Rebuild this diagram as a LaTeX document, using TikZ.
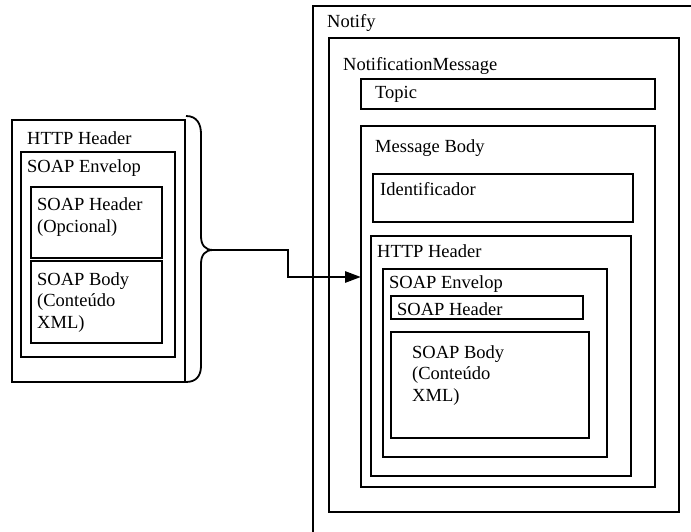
\documentclass[tikz,border=0pt]{standalone}
\usepackage{fontspec}
\setmainfont{Liberation Serif}
\usetikzlibrary{arrows.meta}
\begin{document}
\begin{tikzpicture}[x=1pt,y=-1pt,
  box/.style={draw=black,line width=1.8pt,rectangle,anchor=north west,inner sep=0pt,outer sep=0pt},
  lbl/.style={anchor=base west,inner sep=0pt,align=left,font=\fontsize{18.5}{21.5}\selectfont},
  link/.style={line width=2.8pt,-{Triangle[length=16pt,width=11pt]}},
  brace/.style={line width=1.8pt}]
\clip (0,0) rectangle (691,532);
\fill[white] (0,0) rectangle (691,532);

% left: the HTTP message (multi-line labels sit on their last baseline)
\node[box,minimum width=173pt,minimum height=262pt] (lhttp) at (12,120) {};
\node[box,minimum width=154pt,minimum height=205pt] (lenv) at (21,152) {};
\node[box,minimum width=131pt,minimum height=71pt] (lsh) at (31,187) {};
\node[box,minimum width=131pt,minimum height=82pt] (lsb) at (31,261) {};
\node[lbl] (lhttpt) at (27,145) {HTTP Header};
\node[lbl] (lenvt) at (27,172) {SOAP Envelop};
\node[lbl] (lsht) at (37,232) {SOAP Header\\(Opcional)};
\node[lbl] (lsbt) at (37,328) {SOAP Body\\(Conteúdo\\XML)};

% brace grouping the HTTP message
\coordinate (bracetip) at (213,250);
\draw[brace] (186,116) .. controls (197,116) and (201,124) .. (201,134)
  -- (201,236) .. controls (201,245) and (205,250) .. (bracetip)
  .. controls (205,250) and (201,255) .. (201,264)
  -- (201,366) .. controls (201,376) and (196,382) .. (186,382);

% right: the notification
\node[box,minimum width=420pt,minimum height=560pt] (notify) at (313,6) {};
\node[box,minimum width=350pt,minimum height=474pt] (nmsg) at (329,38) {};
\node[box,minimum width=294pt,minimum height=30pt] (topic) at (361,79) {};
\node[box,minimum width=294pt,minimum height=361pt] (mbody) at (361,126) {};
\node[box,minimum width=260pt,minimum height=48pt] (ident) at (373,174) {};
\node[box,minimum width=260pt,minimum height=240pt] (rhttp) at (371,236) {};
\node[box,minimum width=224pt,minimum height=188pt] (renv) at (383,269) {};
\node[box,minimum width=192pt,minimum height=23pt] (rsh) at (391,296) {};
\node[box,minimum width=198pt,minimum height=106pt] (rsb) at (391,332) {};
\node[lbl] (notifyt) at (327,28) {Notify};
\node[lbl] (nmsgt) at (343,71) {NotificationMessage};
\node[lbl] (topict) at (375,99) {Topic};
\node[lbl] (mbodyt) at (375,153) {Message Body};
\node[lbl] (identt) at (380,196) {Identificador};
\node[lbl] (rhttpt) at (377,257) {HTTP Header};
\node[lbl] (renvt) at (389,288) {SOAP Envelop};
\node[lbl] (rsht) at (397,315) {SOAP Header};
\node[lbl] (rsbt) at (412,401) {SOAP Body\\(Conteúdo\\XML)};

% connector from the brace into the message body
\coordinate (bend) at (288,250);
\coordinate (level) at (0,277);
\draw[link] (bracetip) -- (bend) |- (mbody.west |- level);
\end{tikzpicture}
\end{document}
